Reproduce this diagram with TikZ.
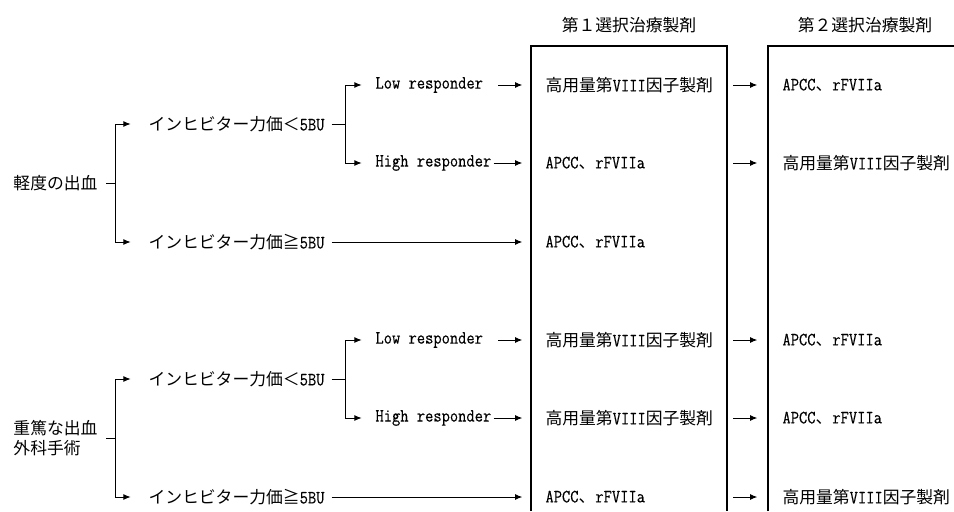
\documentclass[tikz,border=0pt]{standalone}
\usepackage{fontspec}
\setmainfont{Noto Sans CJK JP}
\newfontfamily\latfont{Latin Modern Mono}[FakeStretch=0.86, FakeBold=0.3]
\usetikzlibrary{arrows.meta}

\newcommand{\en}[1]{{\latfont\fontsize{14pt}{15pt}\selectfont #1}}
\newcommand{\hidose}{高用量第\en{VIII}因子製剤}
\newcommand{\apcc}{\en{APCC}、\en{rFVIIa}}

\begin{document}
\begin{tikzpicture} [x=0.75pt, y=-0.75pt, line width=0.75pt,
  >={Latex[length=5.5pt,width=4.5pt]},
  txt/.style = {anchor=west, inner sep=0pt, font=\fontsize{12.6pt}{15pt}\selectfont},
  hdr/.style = {inner sep=0pt, font=\fontsize{12.6pt}{15pt}\selectfont},
  box/.style = {line width=1.1pt}]
\useasboundingbox (0,0) rectangle (954,511);
\def\xa{148}
\def\xb{375}
\def\xc{545}
\def\xd{782}
\def\gsep{255}
% boxes
\coordinate (b1l) at (531,46);
\coordinate (b1r) at (727,46);
\coordinate (b2l) at (768,46);
\coordinate (ka) at (115,0);
\coordinate (kb) at (345,0);
\draw[box] (531,511) -- (b1l) -- (b1r) -- (727,511);
\draw[box] (768,511) -- (b2l) -- (954,46);
\node[hdr] (h1) at (629,25) {第１選択治療製剤};
\node[hdr] (h2) at (865,25) {第２選択治療製剤};
% left side
\node[txt] (cat1) at (13,183) {軽度の出血};
\node[txt, align=left] (cat2) at (13,183+\gsep) {重篤な出血\\外科手術};
\foreach \g in {1,2} {
	\pgfmathsetmacro{\y}{(\g-1)*\gsep}
	\node[txt] (lt\g) at (\xa,124+\y) {インヒビター力価＜\en{5BU}};
	\node[txt] (ge\g) at (\xa,242+\y) {インヒビター力価≧\en{5BU}};
	\node[txt] (low\g) at (\xb,85+\y) {\en{Low responder}};
	\node[txt] (high\g) at (\xb,163+\y) {\en{High responder}};
}
% first and second choice
\node[txt] (f-low1) at (\xc,85) {\hidose};
\node[txt] (f-high1) at (\xc,163) {\apcc};
\node[txt] (f-ge1) at (\xc,242) {\apcc};
\node[txt] (f-low2) at (\xc,85+\gsep) {\hidose};
\node[txt] (f-high2) at (\xc,163+\gsep) {\hidose};
\node[txt] (f-ge2) at (\xc,242+\gsep) {\apcc};
\node[txt] (s-low1) at (\xd,85) {\apcc};
\node[txt] (s-high1) at (\xd,163) {\hidose};
\node[txt] (s-low2) at (\xd,85+\gsep) {\apcc};
\node[txt] (s-high2) at (\xd,163+\gsep) {\apcc};
\node[txt] (s-ge2) at (\xd,242+\gsep) {\hidose};
% brackets and arrows
\foreach \g in {1,2} {
	\draw ([xshift=6pt]cat\g.east) -- (ka |- cat\g);
	\draw[->, shorten >=13pt] (ka |- cat\g) |- (lt\g.west);
	\draw[->, shorten >=13pt] (ka |- cat\g) |- (ge\g.west);
	\draw ([xshift=5pt]lt\g.east) -- (kb |- lt\g);
	\draw[->, shorten >=10pt] (kb |- lt\g) |- (low\g.west);
	\draw[->, shorten >=10pt] (kb |- lt\g) |- (high\g.west);
	\draw[->, shorten <=11pt, shorten >=6.5pt] (low\g.east) -- (b1l |- low\g);
	\draw[->, shorten <=1.5pt, shorten >=6.5pt] (high\g.east) -- (b1l |- high\g);
	\draw[->, shorten <=5pt, shorten >=6.5pt] (ge\g.east) -- (b1l |- ge\g);
}
\foreach \n in {low1,high1,low2,high2,ge2}
	\draw[->, shorten <=4.5pt, shorten >=8pt] (b1r |- f-\n) -- (b2l |- s-\n);
\end{tikzpicture}
\end{document}
